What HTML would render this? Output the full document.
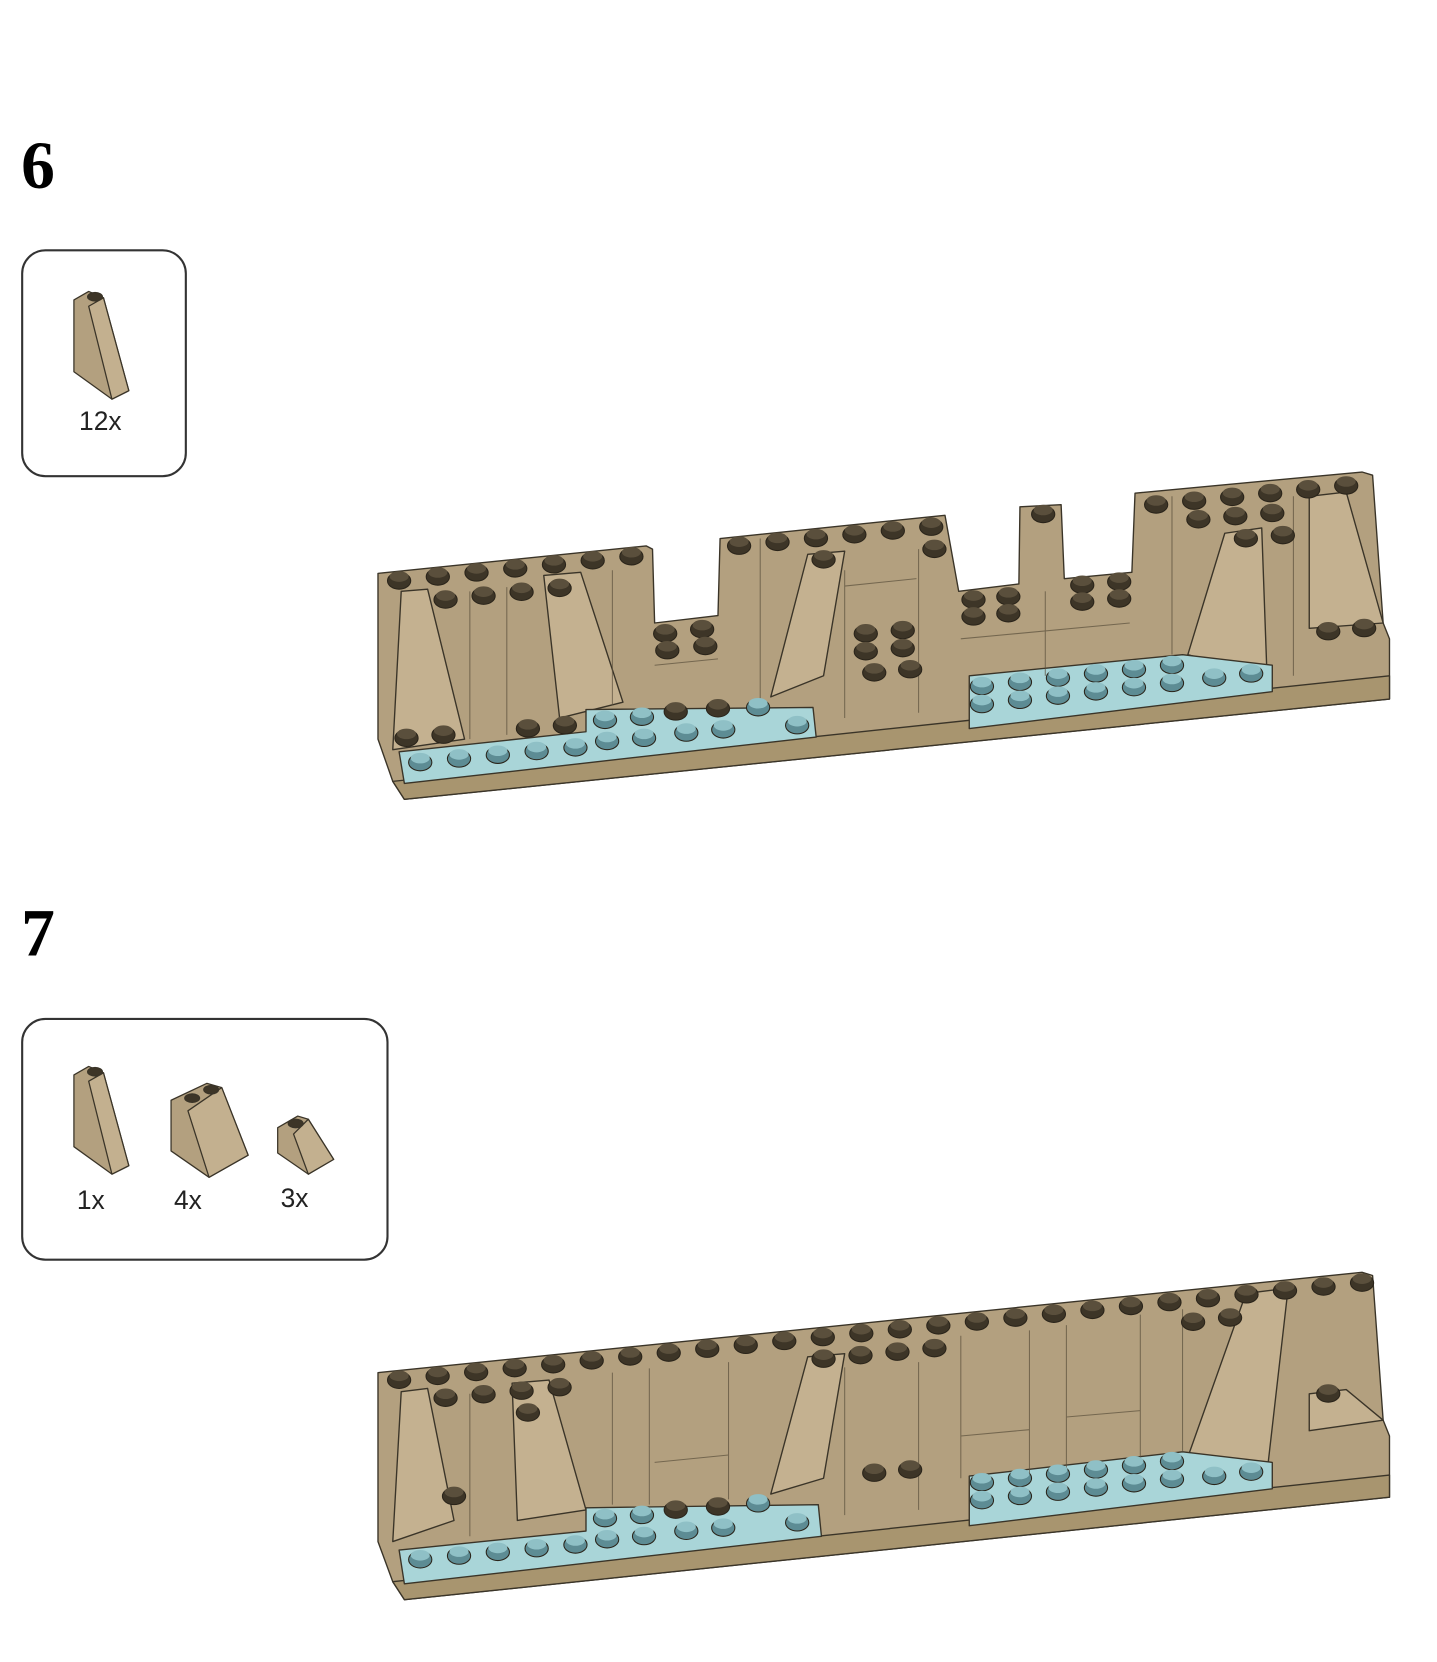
<!DOCTYPE html>
<html><head><meta charset="utf-8"><style>
html,body{margin:0;padding:0;background:#fff;width:1437px;height:1662px;overflow:hidden}
svg{display:block}
</style></head><body>
<svg id="s" width="1437" height="1662" viewBox="0 0 1361 1574" xmlns="http://www.w3.org/2000/svg">
<text x="20" y="178" font-family="Liberation Serif" font-weight="bold" font-size="64">6</text>
<rect x="21" y="237" width="155" height="214" rx="22" fill="none" stroke="#333" stroke-width="2"/>
<g stroke="#3a3428" stroke-width="1.2" stroke-linejoin="round">
<polygon points="70,284 84,276 98,282 122,370 106,378 70,352" fill="#b3a07f"/>
<polygon points="84,290 98,282 122,370 106,378" fill="#c3b08f"/>
<ellipse cx="90" cy="281" rx="7" ry="4" fill="#3d3527"/>
</g>
<text x="95" y="407" text-anchor="middle" font-family="Liberation Sans" font-size="25" fill="#222">12x</text>

<text x="20" y="905" font-family="Liberation Serif" font-weight="bold" font-size="64">7</text>
<rect x="21" y="965" width="346" height="228" rx="22" fill="none" stroke="#333" stroke-width="2"/>
<g stroke="#3a3428" stroke-width="1.2" stroke-linejoin="round">
<polygon points="70,1018 84,1010 98,1016 122,1104 106,1112 70,1086" fill="#b3a07f"/>
<polygon points="84,1024 98,1016 122,1104 106,1112" fill="#c3b08f"/>
<ellipse cx="90" cy="1015" rx="7" ry="4" fill="#3d3527"/>
<polygon points="162,1042 196,1026 210,1030 235,1094 198,1115 162,1090" fill="#b3a07f"/>
<polygon points="178,1052 210,1030 235,1094 198,1115" fill="#c3b08f"/>
<ellipse cx="182" cy="1040" rx="7" ry="4" fill="#3d3527"/><ellipse cx="200" cy="1032" rx="7" ry="4" fill="#3d3527"/>
<polygon points="263,1068 282,1057 292,1060 316,1098 292,1112 263,1092" fill="#b3a07f"/>
<polygon points="278,1074 292,1060 316,1098 292,1112" fill="#c3b08f"/>
<ellipse cx="280" cy="1064" rx="7" ry="4" fill="#3d3527"/>
</g>
<text x="86" y="1145" text-anchor="middle" font-family="Liberation Sans" font-size="25" fill="#222">1x</text>
<text x="178" y="1145" text-anchor="middle" font-family="Liberation Sans" font-size="25" fill="#222">4x</text>
<text x="279" y="1143" text-anchor="middle" font-family="Liberation Sans" font-size="25" fill="#222">3x</text>

<g stroke="#3a3428" stroke-width="1.3" stroke-linejoin="round">
<polygon points="358,543 612,517 618,520 620,590 680,583 682,510 895,488 908,560 965,553 966,480 1005,478 1008,548 1072,542 1075,467 1290,447 1300,450 1310,590 1316,605 1316,662 383,757 372,740 358,700" fill="#b3a07f"/>
<polygon points="372,740 1316,640 1316,662 383,757" fill="#a8956f"/>
<polygon points="380,560 405,558 440,700 372,710" fill="#c4b190"/>
<polygon points="515,545 550,542 590,665 530,680" fill="#c4b190"/>
<polygon points="730,660 765,525 800,522 780,640" fill="#c4b190"/>
<polygon points="1125,620 1160,505 1195,500 1200,640" fill="#c4b190"/>
<polygon points="1240,470 1275,466 1310,590 1240,595" fill="#c4b190"/>
<polygon points="378,712 555,693 555,672 770,670 773,698 383,742" fill="#a9d5d8"/>
<polygon points="918,640 1120,620 1205,630 1205,655 918,690" fill="#a9d5d8"/>
<polygon points="358,1300 1290,1205 1300,1208 1310,1345 1316,1360 1316,1418 383,1515 372,1498 358,1460" fill="#b3a07f"/>
<polygon points="372,1498 1316,1397 1316,1418 383,1515" fill="#a8956f"/>
<polygon points="380,1318 405,1315 430,1440 372,1460" fill="#c4b190"/>
<polygon points="485,1310 520,1307 555,1430 490,1440" fill="#c4b190"/>
<polygon points="730,1415 765,1285 800,1282 780,1400" fill="#c4b190"/>
<polygon points="1125,1380 1180,1225 1220,1220 1200,1395" fill="#c4b190"/>
<polygon points="1240,1320 1275,1316 1310,1345 1240,1355" fill="#c4b190"/>
<polygon points="378,1468 555,1450 555,1428 775,1425 778,1455 383,1500" fill="#a9d5d8"/>
<polygon points="918,1398 1120,1375 1205,1385 1205,1410 918,1445" fill="#a9d5d8"/>
</g>
<g id="ln" stroke="#5a4f3c" stroke-width="1" opacity="0.7">
<line x1="445" y1="560" x2="445" y2="700"/><line x1="480" y1="556" x2="480" y2="696"/><line x1="580" y1="540" x2="580" y2="668"/>
<line x1="720" y1="510" x2="720" y2="665"/><line x1="800" y1="540" x2="800" y2="680"/><line x1="870" y1="520" x2="870" y2="675"/>
<line x1="990" y1="560" x2="990" y2="640"/><line x1="1110" y1="470" x2="1110" y2="620"/><line x1="1225" y1="470" x2="1225" y2="640"/>
<line x1="800" y1="555" x2="868" y2="548"/><line x1="620" y1="630" x2="680" y2="624"/><line x1="910" y1="605" x2="1070" y2="590"/>
<line x1="445" y1="1320" x2="445" y2="1455"/><line x1="580" y1="1300" x2="580" y2="1425"/><line x1="615" y1="1296" x2="615" y2="1425"/>
<line x1="690" y1="1290" x2="690" y2="1420"/><line x1="800" y1="1295" x2="800" y2="1435"/><line x1="870" y1="1290" x2="870" y2="1430"/>
<line x1="910" y1="1265" x2="910" y2="1400"/><line x1="975" y1="1260" x2="975" y2="1395"/><line x1="1010" y1="1255" x2="1010" y2="1390"/>
<line x1="1080" y1="1245" x2="1080" y2="1380"/><line x1="1120" y1="1240" x2="1120" y2="1375"/>
<line x1="620" y1="1385" x2="690" y2="1378"/><line x1="910" y1="1360" x2="975" y2="1354"/><line x1="1010" y1="1342" x2="1080" y2="1336"/>
</g>
<g id="st"></g>
</svg>
<script>
var g=document.getElementById('st'),ns='http://www.w3.org/2000/svg';
function el(x,y,rx,ry,f,s){var e=document.createElementNS(ns,'ellipse');e.setAttribute('cx',x);e.setAttribute('cy',y);e.setAttribute('rx',rx);e.setAttribute('ry',ry);e.setAttribute('fill',f);if(s)e.setAttribute('stroke',s);g.appendChild(e);}
function row(x1,y1,x2,y2,n,c){for(var i=0;i<n;i++){var t=n>1?i/(n-1):0,x=x1+(x2-x1)*t,y=y1+(y2-y1)*t;
el(x,y+2,11,8,c||'#3d3527','#2a241a');el(x,y-2,9,5,c?'#8fc0c6':'#5a4f3c');}}
var T='#5d8c94';
row(378,548,598,525,7);row(422,566,530,555,4);row(630,598,665,594,2);row(632,614,668,610,2);
row(700,515,882,497,6);row(780,528,780,528,1);row(885,518,885,518,1);row(820,598,855,595,2);row(820,615,855,612,2);row(828,635,862,632,2);
row(922,566,955,563,2);row(922,582,955,579,2);row(988,485,988,485,1);row(1025,552,1060,549,2);row(1025,568,1060,565,2);
row(1095,476,1275,458,6);row(1135,490,1205,484,3);row(1180,508,1215,505,2);row(1258,596,1292,593,2);
row(385,697,420,694,2);row(500,688,535,685,2);row(640,672,680,669,2);
row(398,720,545,706,5,T);row(573,680,608,677,2,T);row(575,700,610,697,2,T);row(650,692,685,689,2,T);row(718,668,755,685,2,T);
row(930,648,1110,628,6,T);row(930,665,1110,645,6,T);row(1150,640,1185,636,2,T);
row(378,1305,1290,1213,26);row(422,1322,530,1312,4);row(500,1336,500,1336,1);row(780,1285,885,1275,4);
row(430,1415,430,1415,1);row(828,1393,862,1390,2);row(1130,1250,1165,1246,2);row(1258,1318,1258,1318,1);
row(640,1428,680,1425,2);
row(398,1475,545,1461,5,T);row(573,1436,608,1433,2,T);row(575,1456,610,1453,2,T);row(650,1448,685,1445,2,T);row(718,1422,755,1440,2,T);
row(930,1402,1110,1382,6,T);row(930,1419,1110,1399,6,T);row(1150,1396,1185,1392,2,T);
</script>
</body></html>
